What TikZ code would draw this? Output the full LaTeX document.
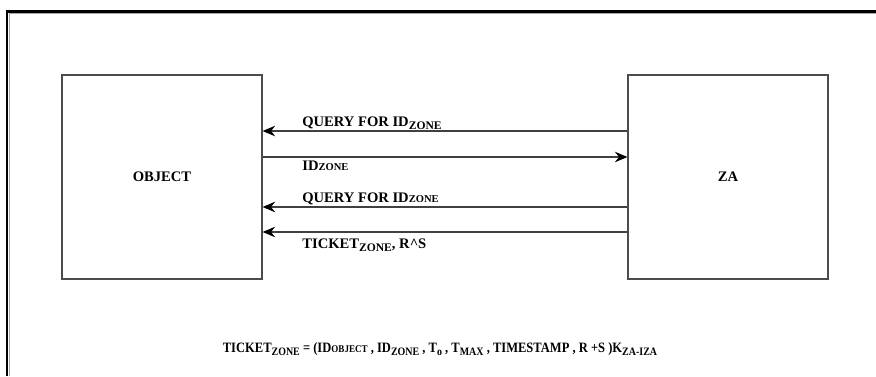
\documentclass[tikz,border=0pt]{standalone}
\usepackage{fontspec}
\setmainfont{Liberation Serif}
\usetikzlibrary{arrows.meta}

\newcommand{\smcap}[1]{{\fontsize{6}{7}\selectfont #1}}
\newcommand{\lowsub}[1]{\raisebox{-0.5ex}{\fontsize{6.6}{7}\selectfont #1}}

\begin{document}
\begin{tikzpicture}[x=0.02cm, y=-0.02cm,
                    every node/.style={font=\fontsize{8.3}{10}\selectfont\bfseries},
                    party/.style={draw=black!70, line width=0.7pt,
                            minimum width=4cm, minimum height=4.08cm},
                    msg/.style={draw=black!75, line width=0.8pt,
                            -{Stealth[length=2.5mm,width=2.1mm,black]}},
                    lbl/.style={anchor=base west, inner sep=0pt}]
                \useasboundingbox (0,0) rectangle (876,376);

                % frame
                \draw[black!35, line width=0.6pt] (9.6,376) -- (9.6,13.9) -- (876,13.9);
                \draw[line width=1.7pt] (7,376) -- (7,11.5) -- (876,11.5);

                \node[party] (obj) at (162,177) {OBJECT};
                \node[party] (za)  at (728,177) {ZA};

                \draw[msg] ([yshift=0.92cm]za.west) -- ([yshift=0.92cm]obj.east);
                \draw[msg] ([yshift=0.4cm]obj.east) -- ([yshift=0.4cm]za.west);
                \draw[msg] ([yshift=-0.6cm]za.west) -- ([yshift=-0.6cm]obj.east);
                \draw[msg] ([yshift=-1.1cm]za.west) -- ([yshift=-1.1cm]obj.east);

                \node[lbl] (q1) at (302,126) {QUERY FOR ID\lowsub{ZONE}};
                \node[lbl] (id) at (302,170) {ID\smcap{ZONE}};
                \node[lbl] (q2) at (302,202) {QUERY FOR ID\smcap{ZONE}};
                \node[lbl] (tk) at (302,248) {TICKET\lowsub{ZONE}, R\^{}S};

                \node[anchor=base, xscale=0.86, yscale=0.98] (tkt) at (440,352)
                    {TICKET\lowsub{ZONE} = (ID\smcap{OBJECT} , ID\lowsub{ZONE} , T\lowsub{o} , T\lowsub{MAX} , TIMESTAMP , R +S )K\lowsub{ZA-IZA}};
            \end{tikzpicture}
\end{document}
